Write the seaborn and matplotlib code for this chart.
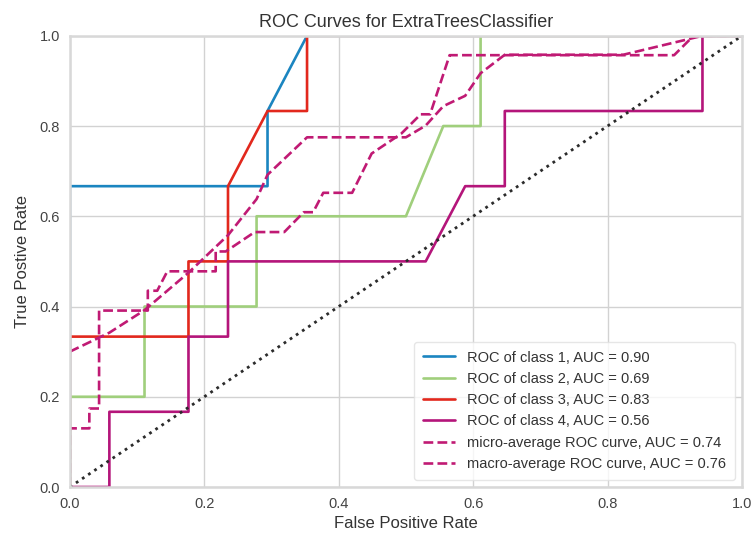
import matplotlib
matplotlib.use("Agg")
import matplotlib.pyplot as plt
import seaborn as sns
import pandas as pd

# ROC curve points per class (false positive rate, true positive rate)
class1_fpr = [0.0, 0.0, 0.2941, 0.2941, 0.3529, 1.0]
class1_tpr = [0.0, 0.6667, 0.6667, 0.8333, 1.0, 1.0]

class2_fpr = [0.0, 0.0, 0.1111, 0.1111, 0.2778, 0.2778, 0.5, 0.5556, 0.6111, 0.6111, 1.0]
class2_tpr = [0.0, 0.2, 0.2, 0.4, 0.4, 0.6, 0.6, 0.8, 0.8, 1.0, 1.0]

class3_fpr = [0.0, 0.0, 0.1765, 0.1765, 0.2353, 0.2353, 0.2941, 0.3529, 0.3529, 1.0]
class3_tpr = [0.0, 0.3333, 0.3333, 0.5, 0.5, 0.6667, 0.8333, 0.8333, 1.0, 1.0]

class4_fpr = [0.0, 0.0588, 0.0588, 0.1765, 0.1765, 0.2353, 0.2353, 0.5294, 0.5882,
              0.6471, 0.6471, 0.9412, 0.9412, 1.0]
class4_tpr = [0.0, 0.0, 0.1667, 0.1667, 0.3333, 0.3333, 0.5, 0.5, 0.6667,
              0.6667, 0.8333, 0.8333, 1.0, 1.0]

micro_fpr = [0.0, 0.0, 0.029, 0.029, 0.0435, 0.0435, 0.116, 0.116, 0.130, 0.145,
             0.217, 0.217, 0.232, 0.275, 0.319, 0.348, 0.362, 0.377, 0.420, 0.449,
             0.493, 0.522, 0.536, 0.565, 0.899, 0.928, 1.0]
micro_tpr = [0.0, 0.130, 0.130, 0.174, 0.174, 0.391, 0.391, 0.435, 0.435, 0.478,
             0.478, 0.522, 0.522, 0.565, 0.565, 0.609, 0.609, 0.652, 0.652, 0.739,
             0.783, 0.826, 0.826, 0.957, 0.957, 1.0, 1.0]

macro_fpr = [0.0, 0.0588, 0.1111, 0.1765, 0.2353, 0.2778, 0.2941, 0.3529, 0.5, 0.5294,
             0.5556, 0.5882, 0.6111, 0.6471, 0.8235, 0.9412, 1.0]
macro_tpr = [0.300, 0.342, 0.392, 0.475, 0.558, 0.638, 0.692, 0.775, 0.775, 0.801,
             0.844, 0.867, 0.917, 0.958, 0.958, 1.0, 1.0]

auc_values = [0.90, 0.69, 0.83, 0.56]
micro_auc = 0.74
macro_auc = 0.76
class_colors = ["#1b85c0", "#a0cf7c", "#e2281d", "#b4157a"]
avg_color = "#c01a74"

sns.set_theme(style="whitegrid")
plt.rcParams["font.family"] = ["Liberation Sans", "DejaVu Sans"]

fig, ax = plt.subplots(figsize=(7.51, 5.34), dpi=100)
fig.subplots_adjust(left=0.093, right=0.988, top=0.933, bottom=0.088)

curves = [
    (class1_fpr, class1_tpr),
    (class2_fpr, class2_tpr),
    (class3_fpr, class3_tpr),
    (class4_fpr, class4_tpr),
]
for i, ((fpr, tpr), auc, color) in enumerate(zip(curves, auc_values, class_colors)):
    df = pd.DataFrame({"fpr": fpr, "tpr": tpr})
    sns.lineplot(data=df, x="fpr", y="tpr", sort=False, estimator=None, ax=ax,
                 color=color, linewidth=1.9,
                 label=f"ROC of class {i + 1}, AUC = {auc:.2f}")

df_micro = pd.DataFrame({"fpr": micro_fpr, "tpr": micro_tpr})
sns.lineplot(data=df_micro, x="fpr", y="tpr", sort=False, estimator=None, ax=ax,
             color=avg_color, linewidth=1.9, linestyle="--",
             label=f"micro-average ROC curve, AUC = {micro_auc:.2f}")

df_macro = pd.DataFrame({"fpr": macro_fpr, "tpr": macro_tpr})
sns.lineplot(data=df_macro, x="fpr", y="tpr", sort=False, estimator=None, ax=ax,
             color=avg_color, linewidth=1.9, linestyle="--",
             label=f"macro-average ROC curve, AUC = {macro_auc:.2f}")

# chance diagonal
ax.plot([0, 1], [0, 1], linestyle=":", color="#2b2b2b", linewidth=2.0)

ax.set_xlim(0, 1)
ax.set_ylim(0, 1)
ax.set_xticks([0.0, 0.2, 0.4, 0.6, 0.8, 1.0])
ax.set_yticks([0.0, 0.2, 0.4, 0.6, 0.8, 1.0])
ax.tick_params(labelsize=10.5, colors="#444444", length=0, pad=7)
ax.grid(True, color="#d2d2d2", linewidth=1.0)
for spine in ax.spines.values():
    spine.set_color("#d8d8d8")
    spine.set_linewidth(1.8)
    spine.set_zorder(5)

ax.set_title("ROC Curves for ExtraTreesClassifier", fontsize=13, color="#333333")
ax.set_xlabel("False Positive Rate", fontsize=12, color="#333333", labelpad=4)
ax.set_ylabel("True Postive Rate", fontsize=12, color="#333333", labelpad=7)

leg = ax.legend(loc="lower right", fontsize=10.5, frameon=True, handlelength=2.2,
                borderpad=0.6, labelspacing=0.5)
leg.get_frame().set_facecolor("white")
leg.get_frame().set_edgecolor("#e0e0e0")
leg.set_zorder(6)
for text in leg.get_texts():
    text.set_color("#333333")

fig.savefig("out.png", dpi=100)
